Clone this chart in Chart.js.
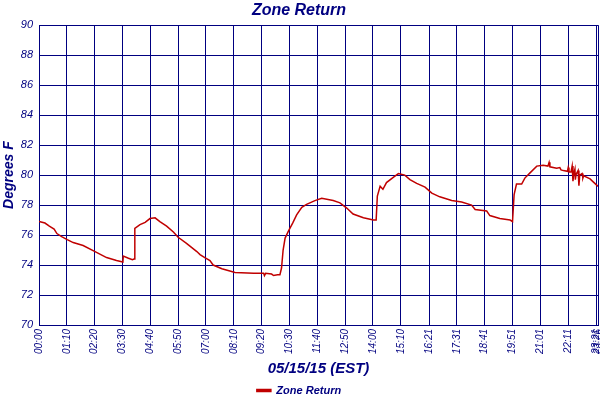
<!DOCTYPE html>
<html>
<head>
<meta charset="utf-8">
<script src="https://cdn.jsdelivr.net/npm/chart.js@4/dist/chart.umd.min.js"></script>
<style>
html,body{margin:0;padding:0;background:#fff;}
#wrap{width:600px;height:400px;}
</style>
</head>
<body>
<div id="wrap"><canvas id="c" width="600" height="400"></canvas></div>
<script>
// ---- data ----
const chartTitle = "Zone Return";
const xTitle = "05/15/15 (EST)";
const yTitle = "Degrees F";
const seriesName = "Zone Return";
const tickLabels = ["00:00","01:10","02:20","03:30","04:40","05:50","07:00","08:10","09:20","10:30","11:40","12:50","14:00","15:10","16:21","17:31","18:41","19:51","21:01","22:11","23:21","23:26"];
const times = [
  "00:00","00:15","00:26","00:38","00:45","00:57","01:11","01:26","01:51","02:21",
  "02:50","03:15","03:31","03:32","03:45","03:55","03:59","04:01","04:14","04:27",
  "04:39","04:52","05:04","05:21","05:38","05:50","06:11","06:37","06:45","06:57",
  "07:10","07:18","07:40","08:00","08:13","09:00","09:25","09:27","09:30","09:45",
  "09:50","10:00","10:06","10:10","10:14","10:19","10:27","10:38","10:48","11:01",
  "11:13","11:34","11:51","12:20","12:37","12:54","13:10","13:36","14:01","14:08",
  "14:11","14:18","14:25","14:34","14:51","15:04","15:20","15:33","15:50","16:11",
  "16:28","16:48","17:18","17:43","18:08","18:17","18:46","18:54","19:19","19:45",
  "19:51","19:55","20:01","20:14","20:22","20:35","20:52","21:08","21:20","21:23",
  "21:25","21:42","21:50","21:53","21:59","22:09","22:11","22:13","22:18","22:21",
  "22:23","22:25","22:28","22:29","22:31","22:36","22:38","22:40","22:46","22:48",
  "22:50","23:06","23:18","23:26"
];
const temps = [
  76.9, 76.8, 76.6, 76.4, 76.1, 75.9, 75.7, 75.5, 75.3, 74.9,
  74.5, 74.3, 74.2, 74.6, 74.45,74.35,74.4, 76.45,76.7, 76.85,
  77.1, 77.15,76.9, 76.6, 76.2, 75.85,75.45,74.9, 74.7, 74.5,
  74.3, 74.0, 73.75,73.6, 73.5, 73.45,73.45,73.3, 73.45,73.4,
  73.3, 73.35,73.35,73.8, 75.0, 75.8, 76.25,76.8, 77.35,77.85,
  78.05,78.3, 78.45,78.3, 78.15,77.8, 77.4, 77.15,77.0, 77.0,
  78.6, 79.25,79.05,79.5, 79.85,80.1, 80.0, 79.7, 79.45,79.2,
  78.8, 78.55,78.3, 78.2, 78.0, 77.7, 77.6, 77.3, 77.1, 77.0,
  76.9, 78.7, 79.4, 79.4, 79.8, 80.15,80.6, 80.65,80.6, 80.85,
  80.55,80.45,80.5, 80.35,80.3, 80.25,80.5, 80.2, 80.2, 80.6,
  79.6, 80.1, 80.4, 79.7, 80.05,80.3, 79.3, 80.0, 80.1, 79.8,
  79.95,79.75,79.45,79.25
];

// ---- helpers ----
const toMin = s => { const p = s.split(":"); return (+p[0]) * 60 + (+p[1]); };
const tickMinutes = tickLabels.map(toMin);
const n = Math.min(times.length, temps.length);
const points = [];
for (let i = 0; i < n; i++) points.push({x: toMin(times[i]), y: temps[i]});

const NAVY = "#000080";
const RED = "#c00000";
const FONT = "'Liberation Sans', Arial, sans-serif";

const whiteBg = {
  id: 'whiteBg',
  beforeDraw(chart) {
    const ctx = chart.ctx;
    ctx.save();
    ctx.fillStyle = '#fff';
    ctx.fillRect(0, 0, chart.width, chart.height);
    ctx.restore();
  }
};

new Chart(document.getElementById('c'), {
  type: 'line',
  data: {
    datasets: [{
      label: seriesName,
      data: points,
      borderColor: RED,
      backgroundColor: RED,
      borderWidth: 1.5,
      pointRadius: 0,
      tension: 0,
      fill: false
    }]
  },
  options: {
    responsive: false,
    animation: false,
    devicePixelRatio: 1,
    layout: { padding: { left: 0, right: 2, top: 0, bottom: -6 } },
    plugins: {
      title: {
        display: true,
        text: chartTitle,
        color: NAVY,
        font: { family: FONT, size: 16, style: 'italic', weight: 'bold' },
        padding: { top: 1, bottom: 5 }
      },
      legend: {
        display: true,
        position: 'bottom',
        labels: {
          color: NAVY,
          boxWidth: 14,
          boxHeight: 2,
          padding: 4,
          font: { family: FONT, size: 11, style: 'italic', weight: 'bold' }
        }
      },
      tooltip: { enabled: false }
    },
    scales: {
      x: {
        type: 'linear',
        min: 0,
        max: tickMinutes[tickMinutes.length - 1],
        afterBuildTicks: (scale) => { scale.ticks = tickMinutes.map(v => ({value: v})); },
        afterFit: (scale) => { scale.height = 56; scale.paddingLeft = 0; scale.paddingRight = 0; },
        ticks: {
          autoSkip: false,
          maxRotation: 90,
          minRotation: 90,
          color: NAVY,
          padding: 4,
          font: { family: FONT, size: 10, style: 'italic' },
          callback: (v) => { const i = tickMinutes.indexOf(v); return i >= 0 ? tickLabels[i] : ''; }
        },
        grid: { color: NAVY, lineWidth: 1, drawTicks: false },
        border: { color: NAVY, width: 1 },
        title: {
          display: true,
          text: xTitle,
          color: NAVY,
          font: { family: FONT, size: 15, style: 'italic', weight: 'bold' },
          padding: { top: 3, bottom: 3 }
        }
      },
      y: {
        min: 70,
        max: 90,
        afterFit: (scale) => { scale.width = 39; },
        ticks: {
          stepSize: 2,
          color: NAVY,
          padding: 6,
          font: { family: FONT, size: 11, style: 'italic' }
        },
        grid: { color: NAVY, lineWidth: 1, drawTicks: false },
        border: { color: NAVY, width: 1 },
        title: {
          display: true,
          text: yTitle,
          color: NAVY,
          font: { family: FONT, size: 14, style: 'italic', weight: 'bold' },
          padding: { top: 1, bottom: 0 }
        }
      }
    }
  },
  plugins: [whiteBg]
});
</script>
</body>
</html>
